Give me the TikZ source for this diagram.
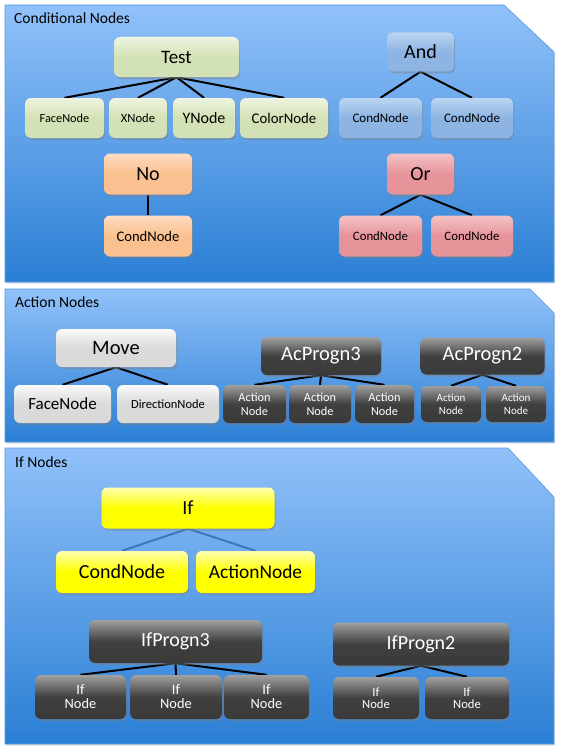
\documentclass[tikz,border=0pt]{standalone}
\usepackage{fontspec}
\setmainfont{Carlito}
\usetikzlibrary{shadows}
\pgfdeclarelayer{panels}
\pgfdeclarelayer{links}
\pgfsetlayers{panels,links,main}

\definecolor{panelTop}{HTML}{91C1FA}
\definecolor{panelBot}{HTML}{2A7FD4}
\definecolor{panelLine}{HTML}{5A9AE0}
\definecolor{greenTop}{HTML}{EEF4E0}
\definecolor{greenBase}{HTML}{D3E2B6}
\definecolor{blueTop}{HTML}{BCD4F2}
\definecolor{blueBase}{HTML}{8DB4E3}
\definecolor{orangeTop}{HTML}{FEDCC2}
\definecolor{orangeBase}{HTML}{FAC08F}
\definecolor{pinkTop}{HTML}{F4C3C6}
\definecolor{pinkBase}{HTML}{E6939A}
\definecolor{grayTop}{HTML}{FAFAFA}
\definecolor{grayBase}{HTML}{DADADA}
\definecolor{darkTop}{HTML}{A0A0A0}
\definecolor{darkBase}{HTML}{404040}
\definecolor{yelTop}{HTML}{FFFFB0}
\definecolor{yelBase}{HTML}{FFFF00}
\definecolor{ifLink}{HTML}{3C78B4}

\tikzset{
  fs/.style 2 args={font=\fontsize{#1}{#2}\selectfont},
  sz/.style 2 args={minimum width=#1pt, minimum height=#2pt},
  box/.style={rounded corners=6pt, inner sep=0pt, align=center,
    drop shadow={opacity=0.45, shadow xshift=1.2pt, shadow yshift=-2pt}},
  greenbox/.style={box, top color=greenTop, bottom color=greenBase, middle color=greenBase},
  bluebox/.style={box, top color=blueTop, bottom color=blueBase, middle color=blueBase},
  orangebox/.style={box, top color=orangeTop, bottom color=orangeBase, middle color=orangeBase},
  pinkbox/.style={box, top color=pinkTop, bottom color=pinkBase, middle color=pinkBase},
  graybox/.style={box, top color=grayTop, bottom color=grayBase, middle color=grayBase},
  darkbox/.style={box, top color=darkTop, bottom color=darkBase!90!black, middle color=darkBase, text=white},
  yelbox/.style={box, top color=yelTop, bottom color=yelBase, middle color=yelBase},
  link/.style={line width=2pt, black},
  iflink/.style={line width=2pt, ifLink},
  panel/.style={top color=panelTop, bottom color=panelBot, draw=panelLine, line width=0.6pt,
    drop shadow={opacity=0.25, shadow xshift=1pt, shadow yshift=-1.5pt}},
  title/.style={anchor=west, inner sep=0pt, fs={15.5}{18}}
}

\begin{document}
\begin{tikzpicture}[x=1pt, y=-1pt]
\useasboundingbox (0,0) rectangle (560,752);

% ---------- panels ----------
\begin{pgfonlayer}{panels}
\fill[white] (0,0) rectangle (560,752);
\path[panel] (5,5) -- (504,5) -- (554,52) -- (554,282) -- (5,282) -- cycle;
\path[panel] (5,289) -- (530,289) -- (554,313) -- (554,442) -- (5,442) -- cycle;
\path[panel] (5,448) -- (508,448) -- (554,497) -- (554,744) -- (5,744) -- cycle;
\end{pgfonlayer}

\node[title] (t1) at (14,18) {Conditional Nodes};
\node[title] (t2) at (15,302) {Action Nodes};
\node[title] (t3) at (15,462) {If Nodes};

% ---------- Conditional nodes ----------
\node[greenbox, sz={125}{40}, fs={19}{22}] (test) at (176.5,57) {Test};
\node[greenbox, sz={79}{40}, fs={12.3}{14}] (face1) at (64.5,118) {FaceNode};
\node[greenbox, sz={58}{40}, fs={12.6}{14}] (xn) at (138,118) {XNode};
\node[greenbox, sz={62}{40}, fs={16}{18}] (yn) at (204,118) {YNode};
\node[greenbox, sz={88}{40}, fs={14.8}{17}] (colorn) at (284,118) {ColorNode};

\node[bluebox, sz={67}{39}, fs={20}{22}] (andn) at (420.5,52) {And};
\node[bluebox, sz={83}{40}, fs={13}{15}] (cb1) at (380.5,118) {CondNode};
\node[bluebox, sz={82}{40}, fs={13}{15}] (cb2) at (472,118) {CondNode};

\node[orangebox, sz={88}{41}, fs={20}{22}] (non) at (148,174) {No};
\node[orangebox, sz={88}{41}, fs={14.6}{17}] (co) at (148,236) {CondNode};

\node[pinkbox, sz={67}{41}, fs={20}{22}] (orn) at (420.5,174) {Or};
\node[pinkbox, sz={83}{41}, fs={12.8}{15}] (cp1) at (380.5,236) {CondNode};
\node[pinkbox, sz={82}{41}, fs={12.8}{15}] (cp2) at (472,236) {CondNode};

% ---------- Action nodes ----------
\node[graybox, sz={120}{38}, fs={20.5}{23}] (move) at (116,348) {Move};
\node[graybox, sz={97}{38}, fs={17}{19}] (face2) at (62.5,404) {FaceNode};
\node[graybox, sz={102}{38}, fs={12.5}{15}] (dir) at (168,404) {DirectionNode};

\node[darkbox, sz={120}{38}, fs={20.5}{23}] (acp3) at (321,356) {AcProgn3};
\node[darkbox, sz={63}{38}, fs={12.3}{13.6}] (a1) at (254.5,404) {Action\\Node};
\node[darkbox, sz={62}{38}, fs={12.3}{13.6}] (a2) at (320,404) {Action\\Node};
\node[darkbox, sz={59}{38}, fs={12.3}{13.6}] (a3) at (384.5,404) {Action\\Node};

\node[darkbox, sz={124}{37}, fs={20.5}{23}] (acp2) at (482.5,356) {AcProgn2};
\node[darkbox, sz={60}{36}, fs={11}{12.5}] (a4) at (451,404) {Action\\Node};
\node[darkbox, sz={60}{36}, fs={11}{12.5}] (a5) at (516,404) {Action\\Node};

% ---------- If nodes ----------
\node[yelbox, sz={173}{41}, fs={20}{22}] (ifn) at (188,508) {If};
\node[yelbox, sz={132}{42}, fs={20}{22}] (cy) at (122,572) {CondNode};
\node[yelbox, sz={119}{42}, fs={19.4}{22}] (ay) at (255.5,572) {ActionNode};

\node[darkbox, sz={173}{43}, fs={20}{22}] (ifp3) at (175.5,641.5) {IfProgn3};
\node[darkbox, sz={91}{44}, fs={14.4}{14}] (i1) at (80.5,697) {If\\Node};
\node[darkbox, sz={92}{44}, fs={14.4}{14}] (i2) at (176,697) {If\\Node};
\node[darkbox, sz={85}{44}, fs={14.4}{14}] (i3) at (266.5,697) {If\\Node};

\node[darkbox, sz={176}{43}, fs={20}{22}] (ifp2) at (421,644) {IfProgn2};
\node[darkbox, sz={86}{42}, fs={12.6}{12.3}] (i4) at (376,698) {If\\Node};
\node[darkbox, sz={84}{42}, fs={12.6}{12.3}] (i5) at (467,698) {If\\Node};

% ---------- connectors ----------
\begin{pgfonlayer}{links}
\foreach \c in {face1,xn,yn,colorn} \draw[link] (test.south) -- (\c.north);
\foreach \c in {cb1,cb2} \draw[link] (andn.south) -- (\c.north);
\draw[link] (non.south) -- (co.north);
\foreach \c in {cp1,cp2} \draw[link] (orn.south) -- (\c.north);
\foreach \c in {face2,dir} \draw[link] (move.south) -- (\c.north);
\foreach \c in {a1,a2,a3} \draw[link] (acp3.south) -- (\c.north);
\foreach \c in {a4,a5} \draw[link] (acp2.south) -- (\c.north);
\foreach \c in {cy,ay} \draw[iflink] (ifn.south) -- (\c.north);
\foreach \c in {i1,i2,i3} \draw[link] (ifp3.south) -- (\c.north);
\foreach \c in {i4,i5} \draw[link] (ifp2.south) -- (\c.north);
\end{pgfonlayer}
\end{tikzpicture}
\end{document}
